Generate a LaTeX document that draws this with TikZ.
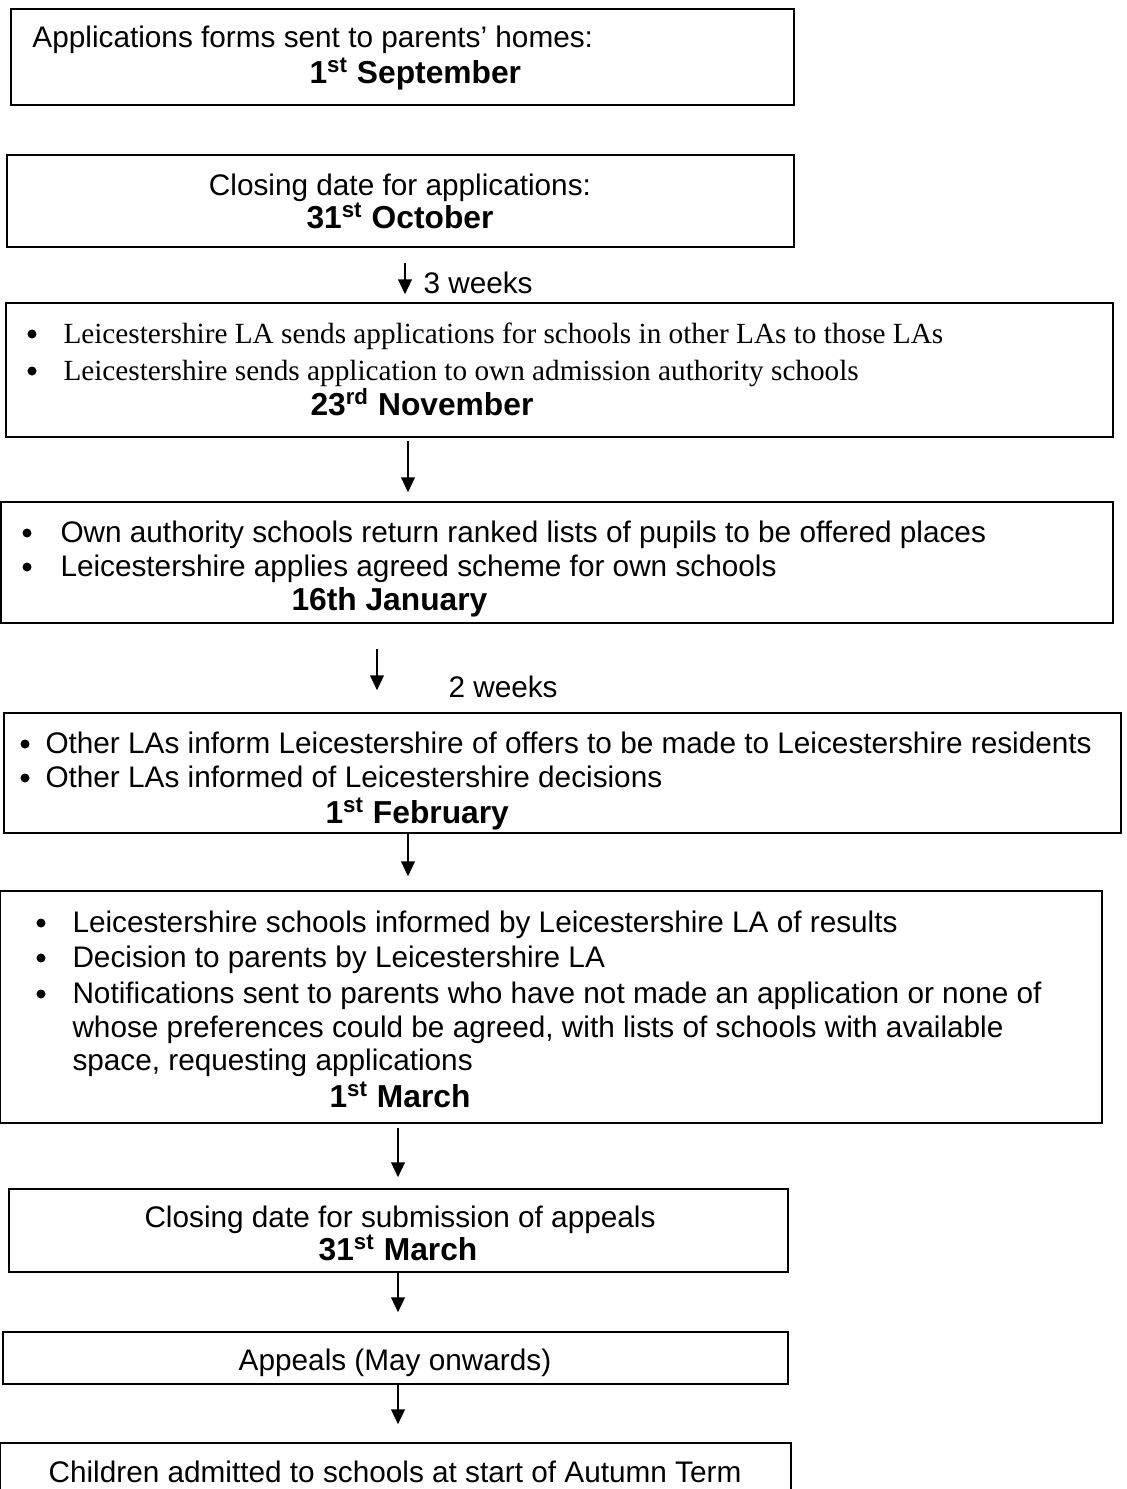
\documentclass[tikz,border=0pt]{standalone}
\usepackage{fontspec}
\setmainfont{Liberation Sans}
\newfontfamily\timesfont{Liberation Serif}
\usetikzlibrary{arrows.meta,fit}

\begin{document}
\begin{tikzpicture}[x=0.4pt, y=-0.4pt,
    box/.style={draw, line width=0.6pt, inner sep=0pt, fit={#1}},
    txt/.style={anchor=base west, inner sep=0pt, font=\fontsize{11.9}{13.8}\selectfont},
    ctxt/.style={txt, anchor=base},
    serif/.style={txt, font=\fontsize{11.7}{13.8}\selectfont\timesfont},
    date/.style={anchor=base west, inner sep=0pt, font=\fontsize{12.7}{15}\selectfont\bfseries},
    cdate/.style={date, anchor=base},
    bul/.style={circle, fill, inner sep=0pt, minimum size=3.6pt},
    arr/.style={-{Triangle[length=6pt, width=5.5pt]}, line width=0.8pt}
]
\useasboundingbox (0,0) rectangle (1127,1489);

% boxes
\node[box={(11,9) (794,105)}] (b1) {};
\node[box={(7,155) (794,247)}] (b2) {};
\node[box={(6,303) (1113,437)}] (b3) {};
\node[box={(1,502) (1113,623)}] (b4) {};
\node[box={(4,713) (1121,833)}] (b5) {};
\node[box={(0,891) (1102,1123)}] (b6) {};
\node[box={(9,1189) (788,1272)}] (b7) {};
\node[box={(3,1332) (788,1384)}] (b8) {};
\node[box={(0,1443) (791,1520)}] (b9) {};

% texts
\node[txt] (t1) at (32,47) {Applications forms sent to parents’ homes:};
\node[date] (d1) at (309,83) {1\textsuperscript{st} September};

\node[ctxt] (t2) at (400,195) {Closing date for applications:};
\node[cdate] (d2) at (400,228) {31\textsuperscript{st} October};

\node[txt] (w3) at (423,293) {3 weeks};

\node[bul] (p3a) at (32,334) {};
\node[bul] (p3b) at (32,371) {};
\node[serif] (t3a) at (63,343) {Leicestershire LA sends applications for schools in other LAs to those LAs};
\node[serif] (t3b) at (63,380) {Leicestershire sends application to own admission authority schools};
\node[date] (d3) at (310,415) {23\textsuperscript{rd} November};

\node[bul] (p4a) at (27,533) {};
\node[bul] (p4b) at (27,567) {};
\node[txt] (t4a) at (60,542) {Own authority schools return ranked lists of pupils to be offered places};
\node[txt] (t4b) at (60,576) {Leicestershire applies agreed scheme for own schools};
\node[date] (d4) at (291,610) {16th January};

\node[txt] (w2) at (448,697) {2 weeks};

\node[bul] (p5a) at (25,744) {};
\node[bul] (p5b) at (25,778) {};
\node[txt] (t5a) at (45,753) {Other LAs inform Leicestershire of offers to be made to Leicestershire residents};
\node[txt] (t5b) at (45,787) {Other LAs informed of Leicestershire decisions};
\node[date] (d5) at (325,823) {1\textsuperscript{st} February};

\node[bul] (p6a) at (41,923) {};
\node[bul] (p6b) at (41,958) {};
\node[bul] (p6c) at (41,994) {};
\node[txt] (t6a) at (72,932) {Leicestershire schools informed by Leicestershire LA of results};
\node[txt] (t6b) at (72,967) {Decision to parents by Leicestershire LA};
\node[txt] (t6c) at (72,1003) {Notifications sent to parents who have not made an application or none of};
\node[txt] (t6d) at (72,1037) {whose preferences could be agreed, with lists of schools with available};
\node[txt] (t6e) at (72,1070) {space, requesting applications};
\node[date] (d6) at (329,1107) {1\textsuperscript{st} March};

\node[ctxt] (t7) at (400,1227) {Closing date for submission of appeals};
\node[cdate] (d7) at (398,1260) {31\textsuperscript{st} March};

\node[ctxt] (t8) at (395,1370) {Appeals (May onwards)};

\node[ctxt] (t9) at (395,1482) {Children admitted to schools at start of Autumn Term};

% arrows
\coordinate (x1) at (405,0);
\coordinate (x2) at (408,0);
\coordinate (x3) at (377,0);
\coordinate (x4) at (398,0);
\draw[arr, shorten <=6pt, shorten >=3.2pt] (b2.south -| x1) -- (b3.north -| x1);
\draw[arr, shorten <=1.2pt, shorten >=3.6pt] (b3.south -| x2) -- (b4.north -| x2);
\draw[arr, shorten <=10pt, shorten >=8.8pt] (b4.south -| x3) -- (b5.north -| x3);
\draw[arr, shorten >=5.6pt] (b5.south -| x2) -- (b6.north -| x2);
\draw[arr, shorten <=1.6pt, shorten >=4.4pt] (b6.south -| x4) -- (b7.north -| x4);
\draw[arr, shorten >=7.6pt] (b7.south -| x4) -- (b8.north -| x4);
\draw[arr, shorten >=7.2pt] (b8.south -| x4) -- (b9.north -| x4);
\end{tikzpicture}
\end{document}
